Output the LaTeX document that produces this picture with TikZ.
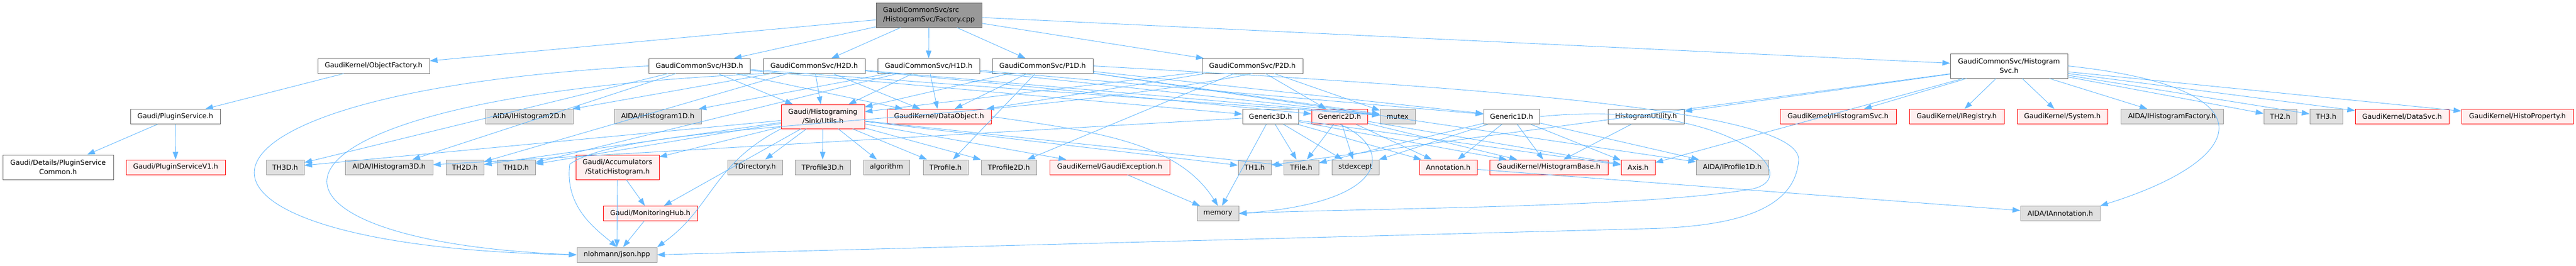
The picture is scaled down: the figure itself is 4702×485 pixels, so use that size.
\documentclass[tikz,border=0pt]{standalone}
\usepackage{fontspec}
\setmainfont{DejaVu Sans}
\usetikzlibrary{arrows.meta}

\definecolor{edgeblue}{HTML}{63B8FF}
\definecolor{nodered}{HTML}{FF0000}
\definecolor{redfill}{HTML}{FFF0F0}
\definecolor{grayfill}{HTML}{E0E0E0}
\definecolor{grayline}{HTML}{999999}
\definecolor{darkline}{HTML}{666666}

\begin{document}
\begin{tikzpicture}[x = 1pt, y = -1pt,
            filebox/.style = {draw, line width = 1pt, minimum height = 27pt, inner xsep = 2pt, inner ysep = 0pt,
                              font = \fontsize{12.6}{16.7}\selectfont, align = center},
            plainbox/.style = {filebox, draw = darkline, fill = white},
            extbox/.style = {filebox, draw = grayline, fill = grayfill},
            cutbox/.style = {filebox, draw = nodered, fill = redfill},
            rootbox/.style = {filebox, draw = darkline, fill = grayline, align = left},
            incl/.style = {draw = edgeblue, line width = 0.9pt, -{Triangle[length = 14pt, width = 10pt]}}]

            \useasboundingbox (0,0) rectangle (4702,485);

                        \node[rootbox, minimum width = 193pt, minimum height = 45pt] (root) at (1695.5,27.5) {GaudiCommonSvc/src\\/HistogramSvc/Factory.cpp};

                        \node[plainbox, minimum width = 204pt] (objfac) at (682,120.5) {GaudiKernel/ObjectFactory.h};
                        \node[plainbox, minimum width = 185pt] (h3d) at (1276.5,120.5) {GaudiCommonSvc/H3D.h};
                        \node[plainbox, minimum width = 186pt] (h2d) at (1486,120.5) {GaudiCommonSvc/H2D.h};
                        \node[plainbox, minimum width = 186pt] (h1d) at (1695,120.5) {GaudiCommonSvc/H1D.h};
                        \node[plainbox, minimum width = 184pt] (p1d) at (1903,120.5) {GaudiCommonSvc/P1D.h};
                        \node[plainbox, minimum width = 184pt] (p2d) at (2286,120.5) {GaudiCommonSvc/P2D.h};
                        \node[plainbox, minimum width = 214pt, minimum height = 45pt] (histsvc) at (3667,120.5) {GaudiCommonSvc/Histogram\\Svc.h};

                        \node[plainbox, minimum width = 164pt] (pluginsvc) at (320,213) {Gaudi/PluginService.h};
                        \node[extbox, minimum width = 160pt] (ih2d) at (966,213) {AIDA/IHistogram2D.h};
                        \node[extbox, minimum width = 159pt] (ih1d) at (1200.5,213) {AIDA/IHistogram1D.h};
                        \node[cutbox, minimum width = 152pt, minimum height = 44pt] (utils) at (1502,213) {Gaudi/Histograming\\/Sink/Utils.h};
                        \node[cutbox, minimum width = 190pt] (dataobj) at (1714,213) {GaudiKernel/DataObject.h};
                        \node[plainbox, minimum width = 102pt] (gen3d) at (2319,213) {Generic3D.h};
                        \node[cutbox, minimum width = 102pt] (gen2d) at (2445,213) {Generic2D.h};
                        \node[extbox, minimum width = 64pt] (mutex) at (2551,213) {mutex};
                        \node[plainbox, minimum width = 102pt] (gen1d) at (2759,213) {Generic1D.h};
                        \node[plainbox, minimum width = 139pt] (histutil) at (3004.5,213) {HistogramUtility.h};
                        \node[cutbox, minimum width = 212pt] (ihistsvc) at (3355,213) {GaudiKernel/IHistogramSvc.h};
                        \node[cutbox, minimum width = 173pt] (iregistry) at (3571.5,213) {GaudiKernel/IRegistry.h};
                        \node[cutbox, minimum width = 165pt] (system) at (3764.5,213) {GaudiKernel/System.h};
                        \node[extbox, minimum width = 187pt] (ihistfac) at (3964.5,213) {AIDA/IHistogramFactory.h};
                        \node[extbox, minimum width = 60pt] (th2) at (4162,213) {TH2.h};
                        \node[extbox, minimum width = 60pt] (th3) at (4246,213) {TH3.h};
                        \node[cutbox, minimum width = 171pt] (datasvc) at (4384.5,213) {GaudiKernel/DataSvc.h};
                        \node[cutbox, minimum width = 204pt] (histoprop) at (4595,213) {GaudiKernel/HistoProperty.h};

                        \node[plainbox, minimum width = 202pt, minimum height = 45pt] (plugincommon) at (106,305.5) {Gaudi/Details/PluginService\\Common.h};
                        \node[cutbox, minimum width = 181pt] (pluginv1) at (320.5,305.5) {Gaudi/PluginServiceV1.h};
                        \node[extbox, minimum width = 69pt] (th3d) at (520.5,305.5) {TH3D.h};
                        \node[extbox, minimum width = 160pt] (ih3d) at (710,305.5) {AIDA/IHistogram3D.h};
                        \node[extbox, minimum width = 69pt] (th2d) at (848.5,305.5) {TH2D.h};
                        \node[extbox, minimum width = 70pt] (th1d) at (942,305.5) {TH1D.h};
                        \node[cutbox, minimum width = 152pt, minimum height = 45pt] (static) at (1127,305.5) {Gaudi/Accumulators\\/StaticHistogram.h};
                        \node[extbox, minimum width = 100pt] (tdir) at (1378,305.5) {TDirectory.h};
                        \node[extbox, minimum width = 101pt] (tprof3d) at (1501.5,305.5) {TProfile3D.h};
                        \node[extbox, minimum width = 84pt] (algo) at (1618,305.5) {algorithm};
                        \node[extbox, minimum width = 82pt] (tprof) at (1726,305.5) {TProfile.h};
                        \node[extbox, minimum width = 101pt] (tprof2d) at (1841.5,305.5) {TProfile2D.h};
                        \node[cutbox, minimum width = 219pt] (gexc) at (2025.5,305.5) {GaudiKernel/GaudiException.h};
                        \node[extbox, minimum width = 60pt] (th1) at (2290,305.5) {TH1.h};
                        \node[extbox, minimum width = 64pt] (tfile) at (2375,305.5) {TFile.h};
                        \node[extbox, minimum width = 86pt] (stdexc) at (2474,305.5) {stdexcept};
                        \node[cutbox, minimum width = 105pt] (annot) at (2643.5,305.5) {Annotation.h};
                        \node[cutbox, minimum width = 216pt] (histbase) at (2827,305.5) {GaudiKernel/HistogramBase.h};
                        \node[cutbox, minimum width = 62pt] (axis) at (2990,305.5) {Axis.h};
                        \node[extbox, minimum width = 132pt] (iprof1d) at (3162,305.5) {AIDA/IProfile1D.h};

                        \node[cutbox, minimum width = 172pt] (monhub) at (1187,390) {Gaudi/MonitoringHub.h};
                        \node[extbox, minimum width = 76pt] (memory) at (2223,390) {memory};
                        \node[extbox, minimum width = 145pt] (iannot) at (3760.5,390) {AIDA/IAnnotation.h};

                        \node[extbox, minimum width = 146pt] (json) at (1126,465.5) {nlohmann/json.hpp};

                        \draw[incl] (root) -- (objfac);
                        \draw[incl] (root) -- (h3d);
                        \draw[incl] (root) -- (h2d);
                        \draw[incl] (root) -- (h1d);
                        \draw[incl] (root) -- (p1d);
                        \draw[incl] (root) -- (p2d);
                        \draw[incl] (root) -- (histsvc);

                        \draw[incl] (objfac) -- (pluginsvc);
                        \draw[incl] (pluginsvc) -- (plugincommon);
                        \draw[incl] (pluginsvc) -- (pluginv1);

                        \draw[incl] (h3d) -- (th3d);
                        \draw[incl] (h3d) -- (ih3d);
                        \draw[incl] (h3d) -- (utils);
                        \draw[incl] (h3d) -- (dataobj);
                        \draw[incl] (h3d) -- (gen3d);
                        \draw[incl] (h3d) -- (mutex);
                        \draw[incl] (h3d.west) .. controls (250,170) and (250,450) .. (json.west);

                        \draw[incl] (h2d) -- (th2d);
                        \draw[incl] (h2d) -- (ih2d);
                        \draw[incl] (h2d) -- (utils);
                        \draw[incl] (h2d) -- (dataobj);
                        \draw[incl] (h2d) -- (gen2d);
                        \draw[incl] (h2d) -- (mutex);
                        \draw[incl] (h2d.south west) .. controls (400,180) and (400,440) .. (json.west);

                        \draw[incl] (h1d) -- (th1d);
                        \draw[incl] (h1d) -- (ih1d);
                        \draw[incl] (h1d) -- (utils);
                        \draw[incl] (h1d) -- (dataobj);
                        \draw[incl] (h1d) -- (gen1d);
                        \draw[incl] (h1d) -- (mutex);

                        \draw[incl] (p1d) -- (tprof);
                        \draw[incl] (p1d) -- (iprof1d);
                        \draw[incl] (p1d) -- (utils);
                        \draw[incl] (p1d) -- (dataobj);
                        \draw[incl] (p1d) -- (gen1d);
                        \draw[incl] (p1d) -- (mutex);
                        \draw[incl] (p1d.east) .. controls (2700,160) and (3290,200) .. (3283,293) .. controls (3276,390) and (3150,415) .. (3000,418) -- (json.east);

                        \draw[incl] (p2d) -- (tprof2d);
                        \draw[incl] (p2d) -- (utils);
                        \draw[incl] (p2d) -- (dataobj);
                        \draw[incl] (p2d) -- (gen2d);
                        \draw[incl] (p2d) -- (mutex);
                        \draw[incl] (p2d.south) .. controls (1800,230) and (1150,220) .. (1040,300) .. controls (1030,380) and (1090,420) .. (json.north);

                        \draw[incl] (utils) -- (th3d);
                        \draw[incl] (utils) -- (th2d);
                        \draw[incl] (utils) -- (th1d);
                        \draw[incl] (utils) -- (static);
                        \draw[incl] (utils) -- (monhub);
                        \draw[incl] (utils.south west) .. controls (1300,300) and (1300,380) .. (json.north east);
                        \draw[incl] (utils) -- (tdir);
                        \draw[incl] (utils) -- (tprof3d);
                        \draw[incl] (utils) -- (algo);
                        \draw[incl] (utils) -- (tprof);
                        \draw[incl] (utils) -- (tprof2d);
                        \draw[incl] (utils) -- (gexc);
                        \draw[incl] (utils) -- (th1);
                        \draw[incl] (utils) -- (tfile);

                        \draw[incl] (static) -- (monhub);
                        \draw[incl] (static) -- (json);
                        \draw[incl] (monhub) -- (json);
                        \draw[incl] (gexc) -- (memory);
                        \draw[incl] (dataobj.east) .. controls (2000,240) and (2150,260) .. (memory.north);

                        \draw[incl] (gen3d) -- (ih3d);
                        \draw[incl] (gen3d) -- (annot);
                        \draw[incl] (gen3d) -- (axis);
                        \draw[incl] (gen3d) -- (histbase);
                        \draw[incl] (gen3d) -- (tfile);
                        \draw[incl] (gen3d) -- (memory);
                        \draw[incl] (gen3d) -- (stdexc);

                        \draw[incl] (gen2d) -- (annot);
                        \draw[incl] (gen2d) -- (axis);
                        \draw[incl] (gen2d) -- (histbase);
                        \draw[incl] (gen2d) -- (tfile);
                        \draw[incl] (gen2d.south) .. controls (2545,270) and (2540,370) .. (memory.east);
                        \draw[incl] (gen2d) -- (stdexc);

                        \draw[incl] (gen1d) -- (iprof1d);
                        \draw[incl] (gen1d) -- (annot);
                        \draw[incl] (gen1d) -- (axis);
                        \draw[incl] (gen1d) -- (histbase);
                        \draw[incl] (gen1d) -- (tfile);
                        \draw[incl] (gen1d) -- (stdexc);
                        \draw[incl] (gen1d.east) .. controls (3150,180) and (3300,320) .. (3200,345) .. controls (3000,380) and (2500,380) .. (memory.east);

                        \draw[incl] (annot) -- (iannot);
                        \draw[incl] (histutil) -- (histbase);

                        \draw[incl] (histsvc) -- (ihistsvc);
                        \draw[incl] (histsvc) -- (iregistry);
                        \draw[incl] (histsvc) -- (system);
                        \draw[incl] (histsvc) -- (ihistfac);
                        \draw[incl] (histsvc) -- (th2);
                        \draw[incl] (histsvc) -- (th3);
                        \draw[incl] (histsvc) -- (datasvc);
                        \draw[incl] (histsvc) -- (histoprop);
                        \draw[incl] (histsvc) -- (histutil);
                        \draw[incl] (histsvc) -- (axis);
                        \draw[incl] (histsvc) -- (th1);
                        \draw[incl] (histsvc.east) .. controls (4150,160) and (4110,290) .. (iannot.north east);

\end{tikzpicture}
\end{document}
